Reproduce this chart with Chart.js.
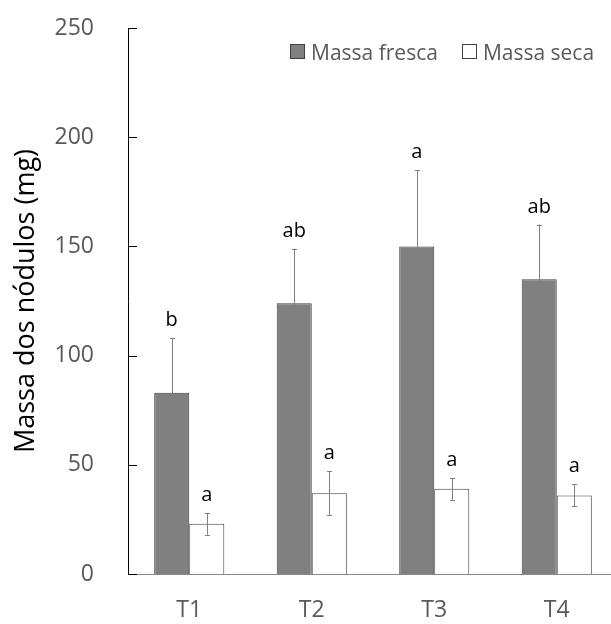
<!DOCTYPE html>
<html>
<head>
<meta charset="utf-8">
<script src="https://cdn.jsdelivr.net/npm/chart.js@4.4.1/dist/chart.umd.min.js"></script>
<style>
  html, body { margin: 0; padding: 0; background: #fff; overflow: hidden; }
  #wrap { position: relative; width: 625px; height: 624px; }
  #legend { position: absolute; top: 37px; left: 290px; font: 21px "Open Sans", sans-serif; color: #595959; white-space: nowrap; }
  #legend span.item { display: inline-flex; align-items: center; margin-right: 24px; }
  #legend span.box { display: inline-block; width: 13px; height: 13px; border: 1px solid #404040; margin-right: 6px; }
</style>
</head>
<body>
<div id="wrap">
  <canvas id="nodChart" width="625" height="624"></canvas>
  <div id="legend"></div>
</div>
<script>
// dados
const tratamentos = ['T1', 'T2', 'T3', 'T4'];
const massaFresca = [83, 124, 150, 135];
const erroFresca = [25, 25, 35, 25];
const letrasFresca = ['b', 'ab', 'a', 'ab'];
const massaSeca = [23, 37, 39, 36];
const erroSeca = [5, 10, 5, 5];
const letrasSeca = ['a', 'a', 'a', 'a'];
const yTicks = [0, 50, 100, 150, 200, 250];

const fonte = '"Open Sans", sans-serif';

// barras de erro + letras
const errorBars = {
    id: 'errorBars',
    afterDatasetsDraw(chart) {
        const ctx = chart.ctx;
        const y = chart.scales.y;
        chart.data.datasets.forEach((ds, i) => {
            const meta = chart.getDatasetMeta(i);
            meta.data.forEach((bar, j) => {
                const v = ds.data[j], e = ds.erros[j];
                const top = y.getPixelForValue(v + e);
                const bot = y.getPixelForValue(v - e);
                const x = Math.round(bar.x) + 0.5;
                ctx.save();
                ctx.strokeStyle = '#7f7f7f';
                ctx.lineWidth = 1;
                ctx.beginPath();
                ctx.moveTo(x, top); ctx.lineTo(x, bot);
                ctx.moveTo(x - 2.5, Math.round(top) + 0.5); ctx.lineTo(x + 2.5, Math.round(top) + 0.5);
                ctx.moveTo(x - 2.5, Math.round(bot) + 0.5); ctx.lineTo(x + 2.5, Math.round(bot) + 0.5);
                ctx.stroke();
                ctx.fillStyle = '#000';
                ctx.font = '20px ' + fonte;
                ctx.textAlign = 'center';
                ctx.textBaseline = 'alphabetic';
                ctx.fillText(ds.letras[j], bar.x, top - 12);
                ctx.restore();
            });
        });
        // tracinhos do eixo y voltados para dentro
        ctx.save();
        ctx.strokeStyle = '#000';
        ctx.lineWidth = 1;
        ctx.beginPath();
        y.ticks.forEach(t => {
            const py = Math.round(y.getPixelForValue(t.value)) + 0.5;
            ctx.moveTo(chart.chartArea.left, py);
            ctx.lineTo(chart.chartArea.left + 9, py);
        });
        ctx.stroke();
        ctx.restore();
    }
};

const ctx = document.getElementById('nodChart').getContext('2d');
const chart = new Chart(ctx, {
    type: 'bar',
    data: {
        labels: tratamentos,
        datasets: [{
            label: 'Massa fresca',
            data: massaFresca,
            erros: erroFresca,
            letras: letrasFresca,
            backgroundColor: '#808080',
            borderColor: '#404040',
            borderWidth: 1
        }, {
            label: 'Massa seca',
            data: massaSeca,
            erros: erroSeca,
            letras: letrasSeca,
            backgroundColor: '#ffffff',
            borderColor: '#404040',
            borderWidth: 1
        }]
    },
    options: {
        responsive: false,
        animation: false,
        layout: { padding: { top: 28, right: 7, left: 0, bottom: 0 } },
        categoryPercentage: 0.572,
        barPercentage: 1.0,
        scales: {
            x: {
                grid: { display: false },
                border: { color: '#868686', width: 1 },
                ticks: { color: '#595959', font: { family: fonte, size: 23 }, padding: 15 },
                afterFit(scale) { scale.height = 50; }
            },
            y: {
                min: 0,
                max: 250,
                afterBuildTicks(scale) { scale.ticks = yTicks.map(v => ({ value: v })); },
                grid: { display: false },
                border: { color: '#000', width: 1 },
                ticks: { color: '#595959', font: { family: fonte, size: 23 }, padding: 26 },
                title: {
                    display: true,
                    text: 'Massa dos nódulos (mg)',
                    color: '#000',
                    font: { family: fonte, size: 27 },
                    padding: { top: 10, bottom: 0 }
                },
                afterFit(scale) {
                    scale.width = 128;
                    scale.paddingTop = 0;
                    scale.paddingBottom = 0;
                }
            }
        },
        plugins: {
            legend: { display: false },
            tooltip: { enabled: false }
        }
    },
    plugins: [errorBars]
});

// legenda em HTML a partir dos datasets
const leg = document.getElementById('legend');
chart.data.datasets.forEach(ds => {
    const item = document.createElement('span');
    item.className = 'item';
    const box = document.createElement('span');
    box.className = 'box';
    box.style.background = ds.backgroundColor;
    item.appendChild(box);
    item.appendChild(document.createTextNode(ds.label));
    leg.appendChild(item);
});
</script>
</body>
</html>
